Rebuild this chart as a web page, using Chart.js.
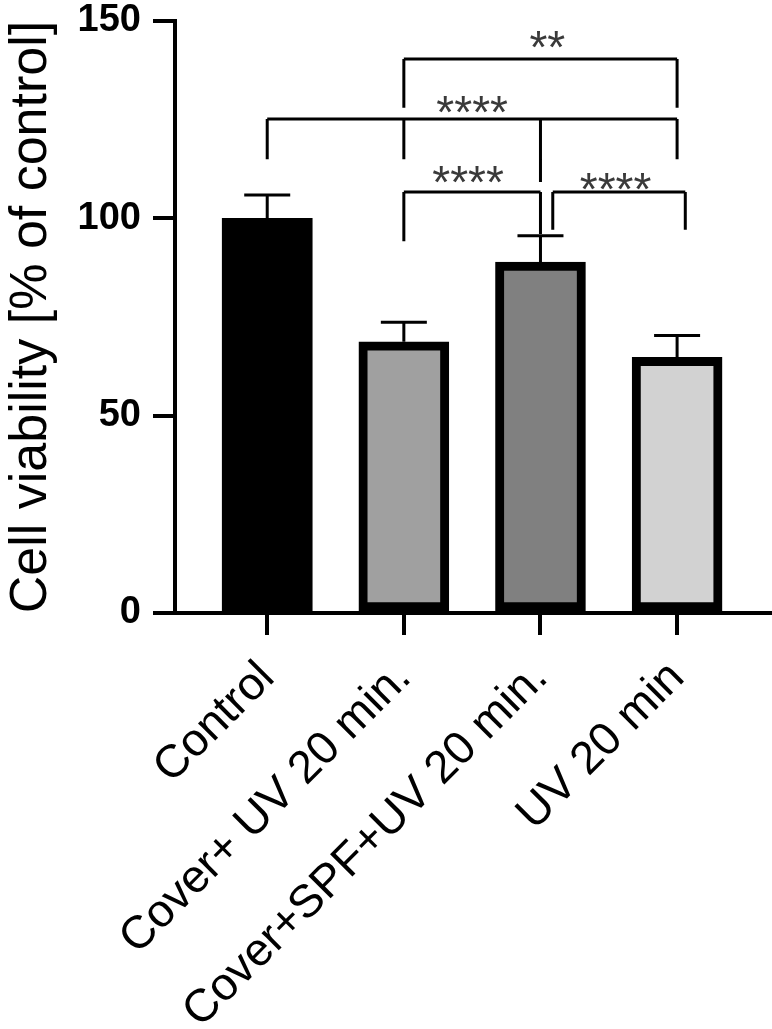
<!DOCTYPE html>
<html>
<head>
<meta charset="utf-8">
<script src="https://cdn.jsdelivr.net/npm/chart.js@4"></script>
<style>
  html, body { margin: 0; padding: 0; background: #fff; }
  #wrap { width: 772px; height: 1029px; }
</style>
</head>
<body>
<div id="wrap"><canvas id="chart"></canvas></div>
<script>
// data
const categories = ["Control", "Cover+ UV 20 min.", "Cover+SPF+UV 20 min.", "UV 20 min"];
const viability = [100, 68.7, 88.9, 64.8];
const sem = [5.9, 5.0, 6.7, 5.5];
const yTicks = [0, 50, 100, 150];

// significance brackets (x in category index, y in % of control)
const bracketFrom = [1, 0, 1, 2.09];
const bracketTo = [3, 3, 2, 3.06];
const bracketY = [140.4, 125.2, 106.7, 106.7];
const bracketLegs = [
  [[1, 128], [3, 128]],
  [[0, 115], [1, 115], [2, 109.2], [3, 115]],
  [[1, 94.2], [2, 96]],
  [[2.09, 97.1], [3.06, 97.1]]
];
const starLabels = ["**", "****", "****", "****"];
const starX = [2.05, 1.5, 1.47, 2.55];
const starY = [146, 129.6, 111.7, 110];

const barColors = ["#000000", "#a0a0a0", "#808080", "#d2d2d2"];
const FONT = "'Liberation Sans', Arial, sans-serif";

const errorBars = {
  id: "errorBars",
  afterDatasetsDraw(chart) {
    const { ctx, scales: { x, y } } = chart;
    ctx.save();
    ctx.strokeStyle = "#000";
    ctx.lineWidth = 3;
    viability.forEach((v, i) => {
      const px = x.getPixelForValue(i);
      const base = y.getPixelForValue(v);
      const top = y.getPixelForValue(v + sem[i]);
      ctx.beginPath();
      ctx.moveTo(px, base);
      ctx.lineTo(px, top);
      ctx.moveTo(px - 23, top);
      ctx.lineTo(px + 23, top);
      ctx.stroke();
    });

    // brackets
    bracketY.forEach((by, i) => {
      const py = y.getPixelForValue(by);
      ctx.beginPath();
      ctx.moveTo(x.getPixelForValue(bracketFrom[i]), py);
      ctx.lineTo(x.getPixelForValue(bracketTo[i]), py);
      bracketLegs[i].forEach(([lx, ly]) => {
        const px = x.getPixelForValue(lx);
        ctx.moveTo(px, py);
        ctx.lineTo(px, y.getPixelForValue(ly));
      });
      ctx.stroke();
    });

    // stars
    ctx.fillStyle = "#3a3a3a";
    ctx.font = "46px " + FONT;
    ctx.textAlign = "center";
    ctx.textBaseline = "alphabetic";
    starLabels.forEach((s, i) => {
      ctx.fillText(s, x.getPixelForValue(starX[i]), y.getPixelForValue(starY[i]) + 26);
    });
    ctx.restore();
  }
};

new Chart(document.getElementById("chart"), {
  type: "bar",
  data: {
    datasets: [{
      data: viability.map((v, i) => ({ x: i, y: v })),
      backgroundColor: barColors,
      borderColor: "#000",
      borderWidth: [0, 9, 9, 9],
      borderSkipped: false,
      barThickness: 90
    }]
  },
  options: {
    responsive: true,
    maintainAspectRatio: false,
    animation: false,
    layout: { padding: { top: 21, right: 2, left: 0, bottom: 0 } },
    plugins: { legend: { display: false }, tooltip: { enabled: false } },
    scales: {
      x: {
        type: "linear",
        min: -0.675,
        max: 3.68,
        offset: false,
        afterBuildTicks: s => { s.ticks = [0, 1, 2, 3].map(v => ({ value: v })); },
        afterFit: s => { s.height = 416; s.paddingLeft = 0; s.paddingRight = 0; },
        ticks: {
          callback: v => categories[v],
          autoSkip: false,
          maxRotation: 45,
          minRotation: 45,
          padding: 16,
          color: "#000",
          font: { family: FONT, size: 46 }
        },
        grid: { offset: false, drawOnChartArea: false, tickLength: 22, lineWidth: 4, color: "#000" },
        border: { display: true, width: 4, color: "#000" }
      },
      y: {
        min: 0,
        max: 150,
        afterBuildTicks: s => { s.ticks = yTicks.map(v => ({ value: v })); },
        afterFit: s => { s.width = 175; s.paddingTop = 0; s.paddingBottom = 0; },
        ticks: {
          padding: 12,
          color: "#000",
          font: { family: FONT, size: 38, weight: "bold" }
        },
        grid: { drawOnChartArea: false, tickLength: 22, lineWidth: 4, color: "#000" },
        border: { display: true, width: 4, color: "#000" },
        title: {
          display: true,
          text: "Cell viability [% of control]",
          color: "#000",
          padding: 0,
          font: { family: FONT, size: 52 }
        }
      }
    }
  },
  plugins: [errorBars]
});
</script>
</body>
</html>
